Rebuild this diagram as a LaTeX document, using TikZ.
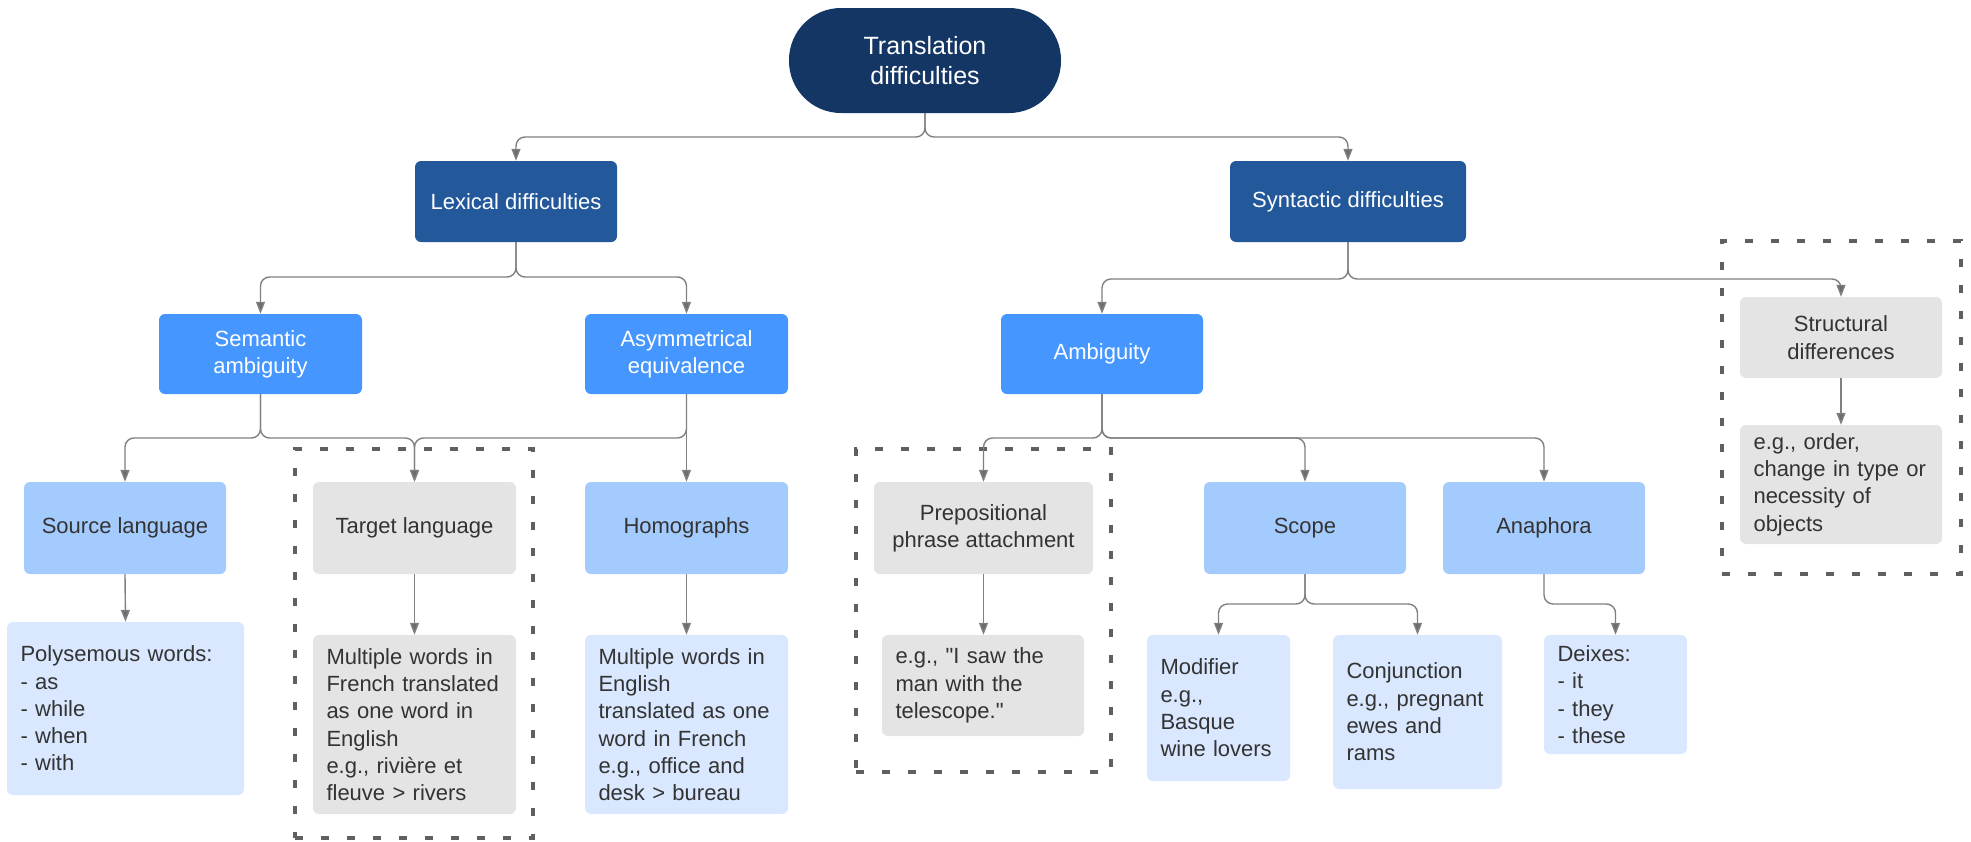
\documentclass[tikz,border=0pt]{standalone}
\usepackage{fontspec}
\setmainfont{Liberation Sans}[Ligatures=TeXOff]
\usetikzlibrary{arrows.meta}
\definecolor{cRoot}{RGB}{20,54,101}
\definecolor{cLvTwo}{RGB}{35,88,154}
\definecolor{cLvThree}{RGB}{69,151,255}
\definecolor{cLvFour}{RGB}{164,203,254}
\definecolor{cLvFive}{RGB}{217,232,254}
\definecolor{cGrey}{RGB}{228,228,228}
\definecolor{cTxt}{RGB}{51,51,51}
\definecolor{cLine}{RGB}{128,128,128}
\definecolor{cDash}{RGB}{95,95,95}
\begin{document}
\begin{tikzpicture}[x=1pt,y=-1pt,
  box/.style={rounded corners=6pt, inner sep=0pt, font=\fontsize{22}{27.3}\selectfont, text=cTxt},
  cbox/.style 2 args={box, align=center, minimum width=#1, minimum height=#2},
  lbox/.style 2 args={box, align=left, inner xsep=13.5pt, text width=#1, minimum height=#2},
  conn/.style={draw=cLine, line width=1.4pt, rounded corners=9pt, -{Triangle[length=12pt,width=9pt,fill=cLine!85!black]}},
  dbox/.style={draw=cDash, line width=4pt, dash pattern=on 8pt off 18pt, inner sep=0pt}
]
\useasboundingbox (0,0) rectangle (1971,841);

% dashed grouping frames
\node[dbox, minimum width=238, minimum height=389] (g1) at (414,643.5) {};
\node[dbox, minimum width=255, minimum height=323] (g2) at (983.5,610.5) {};
\node[dbox, minimum width=239, minimum height=333] (g3) at (1841.5,407.5) {};

% level 1
\node[cbox={272}{105}, rounded corners=52pt, fill=cRoot, text=white, font=\fontsize{25}{30.7}\selectfont] (root) at (925,60.5) {Translation\\difficulties};
% level 2
\node[cbox={202}{81}, fill=cLvTwo, text=white] (lex) at (516,201.5) {Lexical difficulties};
\node[cbox={236}{81}, fill=cLvTwo, text=white] (syn) at (1348,201.5) {Syntactic difficulties};
% level 3
\node[cbox={203}{80}, fill=cLvThree, text=white] (sem) at (260.5,354) {Semantic\\ambiguity};
\node[cbox={203}{80}, fill=cLvThree, text=white] (asym) at (686.5,354) {Asymmetrical\\equivalence};
\node[cbox={202}{80}, fill=cLvThree, text=white] (amb) at (1102,354) {Ambiguity};
\node[cbox={202}{81}, fill=cGrey] (struct) at (1841,337.5) {Structural\\differences};
% level 4
\node[cbox={202}{92}, fill=cLvFour] (src) at (125,528) {Source language};
\node[cbox={203}{92}, fill=cGrey] (tgt) at (414.5,528) {Target language};
\node[cbox={203}{92}, fill=cLvFour] (homo) at (686.5,528) {Homographs};
\node[cbox={219}{92}, fill=cGrey] (pp) at (983.5,528) {Prepositional\\phrase attachment};
\node[cbox={202}{92}, fill=cLvFour] (scope) at (1305,528) {Scope};
\node[cbox={202}{92}, fill=cLvFour] (ana) at (1544,528) {Anaphora};
% leaves
\node[lbox={210pt}{173}, fill=cLvFive] (poly) at (125.5,708.5) {Polysemous words:\\- as\\- while\\- when\\- with};
\node[lbox={176pt}{179}, fill=cGrey] (tgtx) at (414.5,724.5) {Multiple words in\\French translated\\as one word in\\English\\e.g., rivière et\\fleuve > rivers};
\node[lbox={176pt}{179}, fill=cLvFive] (homox) at (686.5,724.5) {Multiple words in\\English\\translated as one\\word in French\\e.g., office and\\desk > bureau};
\node[lbox={175pt}{101}, fill=cGrey] (ppx) at (983,685.5) {e.g., "I saw the\\man with the\\telescope."};
\node[lbox={116pt}{146}, fill=cLvFive] (mod) at (1218.5,708) {Modifier\\e.g.,\\Basque\\wine lovers};
\node[lbox={142pt}{154}, fill=cLvFive] (conj) at (1417.5,712) {Conjunction\\e.g., pregnant\\ewes and\\rams};
\node[lbox={116pt}{119}, fill=cLvFive] (deix) at (1615.5,694.5) {Deixes:\\- it\\- they\\- these};
\node[lbox={175pt}{119}, fill=cGrey] (structx) at (1841,484.5) {e.g., order,\\change in type or\\necessity of\\objects};

% bus heights
\coordinate (busA) at (0,137);
\coordinate (busB) at (0,277);
\coordinate (busC) at (0,279);
\coordinate (busD) at (0,438);
\coordinate (busE) at (0,604);

% connectors
\draw[conn] (root.south) -- (root.south |- busA) -| (lex.north);
\draw[conn] (root.south) -- (root.south |- busA) -| (syn.north);
\draw[conn] (lex.south) -- (lex.south |- busB) -| (sem.north);
\draw[conn] (lex.south) -- (lex.south |- busB) -| (asym.north);
\draw[conn] (syn.south) -- (syn.south |- busC) -| (amb.north);
\draw[conn] (syn.south) -- (syn.south |- busC) -| (struct.north);
\draw[conn] (sem.south) -- (sem.south |- busD) -| (src.north);
\draw[conn] (sem.south) -- (sem.south |- busD) -| (tgt.north);
\draw[conn] (asym.south) -- (asym.south |- busD) -| (tgt.north);
\draw[conn] (asym.south) -- (homo.north);
\draw[conn] (amb.south) -- (amb.south |- busD) -| (pp.north);
\draw[conn] (amb.south) -- (amb.south |- busD) -| (scope.north);
\draw[conn] (amb.south) -- (amb.south |- busD) -| (ana.north);
\draw[conn] (scope.south) -- (scope.south |- busE) -| (mod.north);
\draw[conn] (scope.south) -- (scope.south |- busE) -| (conj.north);
\draw[conn] (ana.south) -- (ana.south |- busE) -| (deix.north);
\draw[conn] (src.south) -- (poly.north);
\draw[conn] (tgt.south) -- (tgtx.north);
\draw[conn] (homo.south) -- (homox.north);
\draw[conn] (pp.south) -- (pp.south |- ppx.north);
\draw[conn] (struct.south) -- (structx.north);
\end{tikzpicture}
\end{document}
